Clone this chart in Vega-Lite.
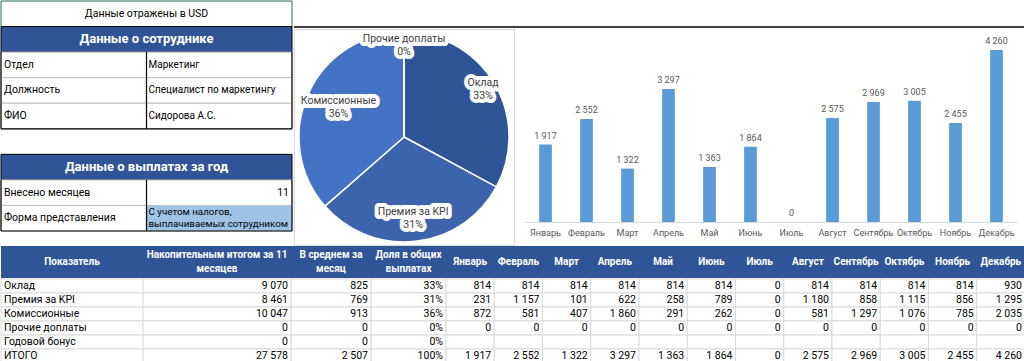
{
  "$schema": "https://vega.github.io/schema/vega-lite/v6.json",
  "padding": 0,
  "background": "white",
  "spacing": 0,
  "config": {
    "font": "Roboto",
    "view": {"stroke": null},
    "locale": {"number": {"decimal": ",", "thousands": " ", "grouping": [3], "currency": ["", ""]}}
  },
  "datasets": {
    "left": [
      {"row": "t", "kind": "title", "col": "all", "text": "Данные отражены в USD"},
      {"row": "h1", "kind": "header", "col": "all", "text": "Данные о сотруднике"},
      {"row": "Отдел", "kind": "cell", "col": "label", "text": "Отдел"},
      {"row": "Отдел", "kind": "cell", "col": "value", "text": "Маркетинг"},
      {"row": "Должность", "kind": "cell", "col": "label", "text": "Должность"},
      {"row": "Должность", "kind": "cell", "col": "value", "text": "Специалист по маркетингу"},
      {"row": "ФИО", "kind": "cell", "col": "label", "text": "ФИО"},
      {"row": "ФИО", "kind": "cell", "col": "value", "text": "Сидорова А.С."},
      {"row": "h2", "kind": "header", "col": "all", "text": "Данные о выплатах за год"},
      {"row": "Внесено месяцев", "kind": "cell", "col": "label", "text": "Внесено месяцев"},
      {"row": "Внесено месяцев", "kind": "cell", "col": "value", "text": "11"},
      {"row": "Форма представления", "kind": "cell", "col": "label", "text": "Форма представления"},
      {"row": "Форма представления", "kind": "cell", "col": "value", "text": "С учетом налогов,\nвыплачиваемых сотрудником"}
    ],
    "pie": [
      {"cat": "Оклад", "v": 9070, "share": 0.3289, "i": 1},
      {"cat": "Премия за KPI", "v": 8461, "share": 0.3068, "i": 2},
      {"cat": "Комиссионные", "v": 10047, "share": 0.3643, "i": 3},
      {"cat": "Прочие доплаты", "v": 0, "share": 0, "i": 4}
    ],
    "summary": [
      {"r": "Оклад", "n": 9070, "a": 825, "d": 0.3289},
      {"r": "Премия за KPI", "n": 8461, "a": 769, "d": 0.3068},
      {"r": "Комиссионные", "n": 10047, "a": 913, "d": 0.3643},
      {"r": "Прочие доплаты", "n": 0, "a": 0, "d": 0},
      {"r": "Годовой бонус", "n": 0, "a": 0, "d": 0},
      {"r": "ИТОГО", "n": 27578, "a": 2507, "d": 1}
    ],
    "cells": [
      {"r": "Оклад", "m": "Январь", "v": 814}, {"r": "Оклад", "m": "Февраль", "v": 814}, {"r": "Оклад", "m": "Март", "v": 814}, {"r": "Оклад", "m": "Апрель", "v": 814}, {"r": "Оклад", "m": "Май", "v": 814}, {"r": "Оклад", "m": "Июнь", "v": 814}, {"r": "Оклад", "m": "Июль", "v": 0}, {"r": "Оклад", "m": "Август", "v": 814}, {"r": "Оклад", "m": "Сентябрь", "v": 814}, {"r": "Оклад", "m": "Октябрь", "v": 814}, {"r": "Оклад", "m": "Ноябрь", "v": 814}, {"r": "Оклад", "m": "Декабрь", "v": 930},
      {"r": "Премия за KPI", "m": "Январь", "v": 231}, {"r": "Премия за KPI", "m": "Февраль", "v": 1157}, {"r": "Премия за KPI", "m": "Март", "v": 101}, {"r": "Премия за KPI", "m": "Апрель", "v": 622}, {"r": "Премия за KPI", "m": "Май", "v": 258}, {"r": "Премия за KPI", "m": "Июнь", "v": 789}, {"r": "Премия за KPI", "m": "Июль", "v": 0}, {"r": "Премия за KPI", "m": "Август", "v": 1180}, {"r": "Премия за KPI", "m": "Сентябрь", "v": 858}, {"r": "Премия за KPI", "m": "Октябрь", "v": 1115}, {"r": "Премия за KPI", "m": "Ноябрь", "v": 856}, {"r": "Премия за KPI", "m": "Декабрь", "v": 1295},
      {"r": "Комиссионные", "m": "Январь", "v": 872}, {"r": "Комиссионные", "m": "Февраль", "v": 581}, {"r": "Комиссионные", "m": "Март", "v": 407}, {"r": "Комиссионные", "m": "Апрель", "v": 1860}, {"r": "Комиссионные", "m": "Май", "v": 291}, {"r": "Комиссионные", "m": "Июнь", "v": 262}, {"r": "Комиссионные", "m": "Июль", "v": 0}, {"r": "Комиссионные", "m": "Август", "v": 581}, {"r": "Комиссионные", "m": "Сентябрь", "v": 1297}, {"r": "Комиссионные", "m": "Октябрь", "v": 1076}, {"r": "Комиссионные", "m": "Ноябрь", "v": 785}, {"r": "Комиссионные", "m": "Декабрь", "v": 2035},
      {"r": "Прочие доплаты", "m": "Январь", "v": 0}, {"r": "Прочие доплаты", "m": "Февраль", "v": 0}, {"r": "Прочие доплаты", "m": "Март", "v": 0}, {"r": "Прочие доплаты", "m": "Апрель", "v": 0}, {"r": "Прочие доплаты", "m": "Май", "v": 0}, {"r": "Прочие доплаты", "m": "Июнь", "v": 0}, {"r": "Прочие доплаты", "m": "Июль", "v": 0}, {"r": "Прочие доплаты", "m": "Август", "v": 0}, {"r": "Прочие доплаты", "m": "Сентябрь", "v": 0}, {"r": "Прочие доплаты", "m": "Октябрь", "v": 0}, {"r": "Прочие доплаты", "m": "Ноябрь", "v": 0}, {"r": "Прочие доплаты", "m": "Декабрь", "v": 0},
      {"r": "Годовой бонус", "m": "Январь", "v": null}, {"r": "Годовой бонус", "m": "Февраль", "v": null}, {"r": "Годовой бонус", "m": "Март", "v": null}, {"r": "Годовой бонус", "m": "Апрель", "v": null}, {"r": "Годовой бонус", "m": "Май", "v": null}, {"r": "Годовой бонус", "m": "Июнь", "v": null}, {"r": "Годовой бонус", "m": "Июль", "v": null}, {"r": "Годовой бонус", "m": "Август", "v": null}, {"r": "Годовой бонус", "m": "Сентябрь", "v": null}, {"r": "Годовой бонус", "m": "Октябрь", "v": null}, {"r": "Годовой бонус", "m": "Ноябрь", "v": null}, {"r": "Годовой бонус", "m": "Декабрь", "v": null},
      {"r": "ИТОГО", "m": "Январь", "v": 1917}, {"r": "ИТОГО", "m": "Февраль", "v": 2552}, {"r": "ИТОГО", "m": "Март", "v": 1322}, {"r": "ИТОГО", "m": "Апрель", "v": 3297}, {"r": "ИТОГО", "m": "Май", "v": 1363}, {"r": "ИТОГО", "m": "Июнь", "v": 1864}, {"r": "ИТОГО", "m": "Июль", "v": 0}, {"r": "ИТОГО", "m": "Август", "v": 2575}, {"r": "ИТОГО", "m": "Сентябрь", "v": 2969}, {"r": "ИТОГО", "m": "Октябрь", "v": 3005}, {"r": "ИТОГО", "m": "Ноябрь", "v": 2455}, {"r": "ИТОГО", "m": "Декабрь", "v": 4260}
    ]
  },
  "vconcat": [
    {
      "hconcat": [
        {
          "width": 291,
          "height": 230,
          "data": {"name": "left"},
          "encoding": {
            "y": {"field": "row", "type": "nominal", "scale": {"domain": ["t", "h1", "Отдел", "Должность", "ФИО", "b1", "h2", "Внесено месяцев", "Форма представления"], "paddingInner": 0, "paddingOuter": 0}, "axis": null}
          },
          "layer": [
            {"transform": [{"filter": "datum.kind === 'title'"}], "mark": {"type": "rect", "fill": "white", "stroke": "#217346", "strokeWidth": 1}},
            {"transform": [{"filter": "datum.kind === 'title'"}], "mark": {"type": "text", "fontSize": 10.5, "color": "black"}, "encoding": {"text": {"field": "text"}}},
            {"transform": [{"filter": "datum.kind === 'header'"}], "mark": {"type": "rect", "fill": "#2F5597", "stroke": "black", "strokeWidth": 1}},
            {"transform": [{"filter": "datum.kind === 'header'"}], "mark": {"type": "text", "fontSize": 13, "fontWeight": "bold", "color": "white"}, "encoding": {"text": {"field": "text"}}},
            {"transform": [{"filter": "datum.kind === 'cell'"}], "mark": {"type": "rect", "stroke": "#bfbfbf", "strokeWidth": 1},
              "encoding": {
                "x": {"field": "col", "type": "nominal", "scale": {"type": "band", "domain": ["label", "value"], "paddingInner": 0, "paddingOuter": 0}, "axis": null},
                "fill": {"condition": {"test": "datum.row === 'Форма представления' && datum.col === 'value'", "value": "#9DC3E6"}, "value": "white"}
              }},
            {"transform": [{"filter": "datum.kind === 'cell'"}], "mark": {"type": "tick", "orient": "vertical", "color": "black", "thickness": 1.2, "size": 25.6, "opacity": 1},
              "encoding": {"x": {"field": "col", "type": "nominal", "bandPosition": 0, "scale": {"type": "band", "domain": ["label", "value"], "paddingInner": 0, "paddingOuter": 0}, "axis": null}}},
            {"transform": [{"filter": "datum.kind === 'cell' && datum.col === 'value'"}], "mark": {"type": "tick", "orient": "vertical", "color": "black", "thickness": 1.2, "size": 25.6, "opacity": 1},
              "encoding": {"x": {"field": "col", "type": "nominal", "bandPosition": 1, "scale": {"type": "band", "domain": ["label", "value"], "paddingInner": 0, "paddingOuter": 0}, "axis": null}}},
            {"transform": [{"filter": "datum.kind === 'cell' && (datum.row === 'ФИО' || datum.row === 'Форма представления')"}], "mark": {"type": "tick", "orient": "horizontal", "color": "black", "thickness": 1.2, "size": 145.5, "opacity": 1},
              "encoding": {
                "x": {"field": "col", "type": "nominal", "scale": {"type": "band", "domain": ["label", "value"], "paddingInner": 0, "paddingOuter": 0}, "axis": null},
                "y": {"field": "row", "type": "nominal", "bandPosition": 1}
              }},
            {"transform": [{"filter": "datum.kind === 'cell' && datum.col === 'label'"}], "mark": {"type": "text", "align": "left", "dx": 3, "fontSize": 10.5, "color": "black"},
              "encoding": {
                "x": {"field": "col", "type": "nominal", "bandPosition": 0, "scale": {"type": "band", "domain": ["label", "value"], "paddingInner": 0, "paddingOuter": 0}, "axis": null},
                "text": {"field": "text"}
              }},
            {"transform": [{"filter": "datum.kind === 'cell' && datum.col === 'value' && datum.row !== 'Внесено месяцев' && datum.row !== 'Форма представления'"}], "mark": {"type": "text", "align": "left", "dx": 2, "fontSize": 10, "color": "black"},
              "encoding": {
                "x": {"field": "col", "type": "nominal", "bandPosition": 0, "scale": {"type": "band", "domain": ["label", "value"], "paddingInner": 0, "paddingOuter": 0}, "axis": null},
                "text": {"field": "text"}
              }},
            {"transform": [{"filter": "datum.kind === 'cell' && datum.col === 'value' && datum.row === 'Форма представления'"}], "mark": {"type": "text", "align": "left", "dx": 2, "dy": -6, "fontSize": 9.8, "color": "black", "lineBreak": "\n", "lineHeight": 12},
              "encoding": {
                "x": {"field": "col", "type": "nominal", "bandPosition": 0, "scale": {"type": "band", "domain": ["label", "value"], "paddingInner": 0, "paddingOuter": 0}, "axis": null},
                "text": {"field": "text"}
              }},
            {"transform": [{"filter": "datum.kind === 'cell' && datum.col === 'value' && datum.row === 'Внесено месяцев'"}], "mark": {"type": "text", "align": "right", "dx": -3, "fontSize": 10.5, "color": "black"},
              "encoding": {
                "x": {"field": "col", "type": "nominal", "bandPosition": 1, "scale": {"type": "band", "domain": ["label", "value"], "paddingInner": 0, "paddingOuter": 0}, "axis": null},
                "text": {"field": "text"}
              }}
          ]
        },
        {
          "vconcat": [
            {
              "width": 732,
              "height": 26,
              "data": {"values": [{}]},
              "mark": {"type": "rule", "color": "black", "strokeWidth": 1.5},
              "encoding": {"y": {"value": "height"}}
            },
            {
              "hconcat": [
                {
                  "width": 220,
                  "height": 216,
                  "view": {"stroke": "#d9d9d9"},
                  "data": {"name": "pie"},
                  "transform": [{"calculate": "[datum.cat, format(datum.share, '.0%')]", "as": "lab"}],
                  "encoding": {
                    "theta": {"field": "v", "type": "quantitative", "stack": true},
                    "order": {"field": "i", "type": "quantitative"}
                  },
                  "layer": [
                    {"mark": {"type": "arc", "outerRadius": 105, "stroke": "white", "strokeWidth": 1.5},
                      "encoding": {"color": {"field": "cat", "type": "nominal", "scale": {"domain": ["Оклад", "Премия за KPI", "Комиссионные", "Прочие доплаты"], "range": ["#2F5597", "#3B64AD", "#4472C4", "#5B8BD8"]}, "legend": null}}},
                    {"mark": {"type": "text", "radius": 92, "dy": -6.5, "lineHeight": 13, "fontSize": 10.5, "color": "white", "stroke": "white", "strokeWidth": 8, "strokeJoin": "round"},
                      "encoding": {"text": {"condition": {"test": "datum.cat === 'Оклад' || datum.cat === 'Прочие доплаты'", "field": "lab"}, "value": ""}}},
                    {"mark": {"type": "text", "radius": 92, "dy": -6.5, "lineHeight": 13, "fontSize": 10.5, "color": "#404040"},
                      "encoding": {"text": {"condition": {"test": "datum.cat === 'Оклад' || datum.cat === 'Прочие доплаты'", "field": "lab"}, "value": ""}}},
                    {"mark": {"type": "text", "radius": 82, "dy": -6.5, "lineHeight": 13, "fontSize": 10.5, "color": "white", "stroke": "white", "strokeWidth": 8, "strokeJoin": "round"},
                      "encoding": {"text": {"condition": {"test": "datum.cat === 'Премия за KPI'", "field": "lab"}, "value": ""}}},
                    {"mark": {"type": "text", "radius": 82, "dy": -6.5, "lineHeight": 13, "fontSize": 10.5, "color": "#404040"},
                      "encoding": {"text": {"condition": {"test": "datum.cat === 'Премия за KPI'", "field": "lab"}, "value": ""}}},
                    {"mark": {"type": "text", "radius": 72, "dy": -6.5, "lineHeight": 13, "fontSize": 10.5, "color": "white", "stroke": "white", "strokeWidth": 8, "strokeJoin": "round"},
                      "encoding": {"text": {"condition": {"test": "datum.cat === 'Комиссионные'", "field": "lab"}, "value": ""}}},
                    {"mark": {"type": "text", "radius": 72, "dy": -6.5, "lineHeight": 13, "fontSize": 10.5, "color": "#404040"},
                      "encoding": {"text": {"condition": {"test": "datum.cat === 'Комиссионные'", "field": "lab"}, "value": ""}}}
                  ]
                },
                {
                  "width": 492,
                  "height": 193,
                  "data": {"name": "cells"},
                  "transform": [{"filter": "datum.r === 'ИТОГО'"}],
                  "encoding": {
                    "x": {"field": "m", "type": "nominal", "scale": {"domain": ["Январь", "Февраль", "Март", "Апрель", "Май", "Июнь", "Июль", "Август", "Сентябрь", "Октябрь", "Ноябрь", "Декабрь"], "paddingInner": 0.69, "paddingOuter": 0.345},
                      "axis": {"title": null, "labelAngle": 0, "ticks": false, "domainColor": "#d9d9d9", "labelFontSize": 9, "labelColor": "#595959", "labelPadding": 6, "grid": false}},
                    "y": {"field": "v", "type": "quantitative", "scale": {"domain": [0, 4780], "nice": false},
                      "axis": {"title": null, "labels": false, "ticks": false, "grid": false, "domainColor": "#d9d9d9", "offset": 11}}
                  },
                  "layer": [
                    {"mark": {"type": "bar", "color": "#5B9BD5"}},
                    {"mark": {"type": "text", "dy": -9, "fontSize": 9, "color": "#595959"}, "encoding": {"text": {"field": "v", "type": "quantitative", "format": ",.0f"}}}
                  ]
                }
              ],
              "spacing": 11,
              "bounds": "flush"
            }
          ],
          "spacing": 0
        }
      ],
      "spacing": 0
    },
    {
      "hconcat": [
        {"width": 142, "height": 32, "data": {"values": [{"t": "Показатель"}]},
          "layer": [
            {"mark": {"type": "rect", "fill": "#2F5597"}, "encoding": {}},
            {"mark": {"type": "text", "fontSize": 10, "fontWeight": "bold", "color": "white"}, "encoding": {"text": {"field": "t"}}}
          ]},
        {"width": 148, "height": 32, "data": {"values": [{"t": "Накопительным итогом за 11\nмесяцев"}]},
          "layer": [
            {"mark": {"type": "rect", "fill": "#2F5597"}, "encoding": {}},
            {"mark": {"type": "text", "fontSize": 10, "fontWeight": "bold", "color": "white", "lineBreak": "\n", "lineHeight": 14, "dy": -7}, "encoding": {"text": {"field": "t"}}}
          ]},
        {"width": 80, "height": 32, "data": {"values": [{"t": "В среднем за\nмесяц"}]},
          "layer": [
            {"mark": {"type": "rect", "fill": "#2F5597"}, "encoding": {}},
            {"mark": {"type": "text", "fontSize": 10, "fontWeight": "bold", "color": "white", "lineBreak": "\n", "lineHeight": 14, "dy": -7}, "encoding": {"text": {"field": "t"}}}
          ]},
        {"width": 75, "height": 32, "data": {"values": [{"t": "Доля в общих\nвыплатах"}]},
          "layer": [
            {"mark": {"type": "rect", "fill": "#2F5597"}, "encoding": {}},
            {"mark": {"type": "text", "fontSize": 10, "fontWeight": "bold", "color": "white", "lineBreak": "\n", "lineHeight": 14, "dy": -7}, "encoding": {"text": {"field": "t"}}}
          ]},
        {"width": 579, "height": 32, "data": {"name": "cells"},
          "transform": [{"filter": "datum.r === 'ИТОГО'"}],
          "layer": [
            {"mark": {"type": "rect", "fill": "#2F5597"}, "encoding": {}},
            {"mark": {"type": "text", "fontSize": 10, "fontWeight": "bold", "color": "white"},
              "encoding": {
                "x": {"field": "m", "type": "nominal", "scale": {"type": "band", "domain": ["Январь", "Февраль", "Март", "Апрель", "Май", "Июнь", "Июль", "Август", "Сентябрь", "Октябрь", "Ноябрь", "Декабрь"], "paddingInner": 0, "paddingOuter": 0}, "axis": null},
                "text": {"field": "m"}
              }}
          ]}
      ],
      "spacing": 0,
      "bounds": "flush"
    },
    {
      "hconcat": [
        {"width": 142, "height": 84, "data": {"name": "summary"},
          "encoding": {"y": {"field": "r", "type": "nominal", "scale": {"domain": ["Оклад", "Премия за KPI", "Комиссионные", "Прочие доплаты", "Годовой бонус", "ИТОГО"], "paddingInner": 0, "paddingOuter": 0}, "axis": null}},
          "layer": [
            {"mark": {"type": "rect", "fill": "white", "stroke": "#d9d9d9", "strokeWidth": 1}},
            {"mark": {"type": "text", "align": "left", "dx": 3, "fontSize": 10.5, "color": "black"},
              "encoding": {
                "x": {"datum": "Показатель", "type": "nominal", "bandPosition": 0, "scale": {"type": "band", "paddingInner": 0, "paddingOuter": 0}, "axis": null},
                "text": {"field": "r"}
              }}
          ]},
        {"width": 148, "height": 84, "data": {"name": "summary"},
          "encoding": {"y": {"field": "r", "type": "nominal", "scale": {"domain": ["Оклад", "Премия за KPI", "Комиссионные", "Прочие доплаты", "Годовой бонус", "ИТОГО"], "paddingInner": 0, "paddingOuter": 0}, "axis": null}},
          "layer": [
            {"mark": {"type": "rect", "fill": "white", "stroke": "#d9d9d9", "strokeWidth": 1}},
            {"mark": {"type": "text", "align": "right", "dx": -3, "fontSize": 10.5, "color": "black"},
              "encoding": {
                "x": {"datum": "n", "type": "nominal", "bandPosition": 1, "scale": {"type": "band", "paddingInner": 0, "paddingOuter": 0}, "axis": null},
                "text": {"field": "n", "type": "quantitative", "format": ",.0f"}
              }}
          ]},
        {"width": 80, "height": 84, "data": {"name": "summary"},
          "encoding": {"y": {"field": "r", "type": "nominal", "scale": {"domain": ["Оклад", "Премия за KPI", "Комиссионные", "Прочие доплаты", "Годовой бонус", "ИТОГО"], "paddingInner": 0, "paddingOuter": 0}, "axis": null}},
          "layer": [
            {"mark": {"type": "rect", "fill": "white", "stroke": "#d9d9d9", "strokeWidth": 1}},
            {"mark": {"type": "text", "align": "right", "dx": -3, "fontSize": 10.5, "color": "black"},
              "encoding": {
                "x": {"datum": "a", "type": "nominal", "bandPosition": 1, "scale": {"type": "band", "paddingInner": 0, "paddingOuter": 0}, "axis": null},
                "text": {"field": "a", "type": "quantitative", "format": ",.0f"}
              }}
          ]},
        {"width": 75, "height": 84, "data": {"name": "summary"},
          "encoding": {"y": {"field": "r", "type": "nominal", "scale": {"domain": ["Оклад", "Премия за KPI", "Комиссионные", "Прочие доплаты", "Годовой бонус", "ИТОГО"], "paddingInner": 0, "paddingOuter": 0}, "axis": null}},
          "layer": [
            {"mark": {"type": "rect", "fill": "white", "stroke": "#d9d9d9", "strokeWidth": 1}},
            {"mark": {"type": "text", "align": "right", "dx": -3, "fontSize": 10.5, "color": "black"},
              "encoding": {
                "x": {"datum": "d", "type": "nominal", "bandPosition": 1, "scale": {"type": "band", "paddingInner": 0, "paddingOuter": 0}, "axis": null},
                "text": {"field": "d", "type": "quantitative", "format": ".0%"}
              }}
          ]},
        {"width": 579, "height": 84, "data": {"name": "cells"},
          "encoding": {
            "y": {"field": "r", "type": "nominal", "scale": {"domain": ["Оклад", "Премия за KPI", "Комиссионные", "Прочие доплаты", "Годовой бонус", "ИТОГО"], "paddingInner": 0, "paddingOuter": 0}, "axis": null},
            "x": {"field": "m", "type": "nominal", "scale": {"type": "band", "domain": ["Январь", "Февраль", "Март", "Апрель", "Май", "Июнь", "Июль", "Август", "Сентябрь", "Октябрь", "Ноябрь", "Декабрь"], "paddingInner": 0, "paddingOuter": 0}, "axis": null}
          },
          "layer": [
            {"mark": {"type": "rect", "fill": "white", "stroke": "#d9d9d9", "strokeWidth": 1}},
            {"transform": [{"filter": "isValid(datum.v)"}],
              "mark": {"type": "text", "align": "right", "dx": -3, "fontSize": 10.5, "color": "black"},
              "encoding": {
                "x": {"field": "m", "type": "nominal", "bandPosition": 1},
                "text": {"field": "v", "type": "quantitative", "format": ",.0f"}
              }}
          ]}
      ],
      "spacing": 0,
      "bounds": "flush"
    }
  ]
}
